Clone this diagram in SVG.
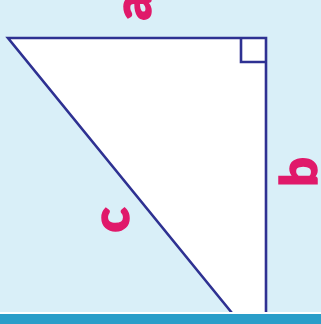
<svg xmlns="http://www.w3.org/2000/svg" width="321" height="324" viewBox="0 0 321 324">
  <style>
    .edge { fill: none; stroke: #2e3192; stroke-width: 2.6; stroke-linejoin: miter; }
    .lbl { font-family: Lato, "Open Sans", "DejaVu Sans", sans-serif; font-weight: 900; font-size: 52px; fill: #e0196a; stroke: #e0196a; stroke-width: 1.5; text-anchor: middle; }
  </style>
  <rect x="0" y="0" width="321" height="324" fill="#d9eff8"/>
  <g id="triangle">
    <polygon points="232,313 8,38 266,38 266,313" fill="#ffffff"/>
  </g>
  <g id="connectors">
    <polyline class="edge" points="232,313 8,38 266,38 266,313"/>
    <polyline class="edge" points="241,38 241,62 266,62"/>
  </g>
  <g id="label-a"><text class="lbl" transform="translate(151,7) rotate(-90)">a</text></g>
  <g id="label-b"><text class="lbl" transform="translate(317,172) rotate(-90)">b</text></g>
  <g id="label-c"><text class="lbl" transform="translate(129,220) rotate(-90)">c</text></g>
  <g id="ground">
    <rect x="0" y="312" width="321" height="2" fill="#ffffff"/>
    <rect x="0" y="314" width="321" height="10" fill="#2a9ec9"/>
  </g>
</svg>
